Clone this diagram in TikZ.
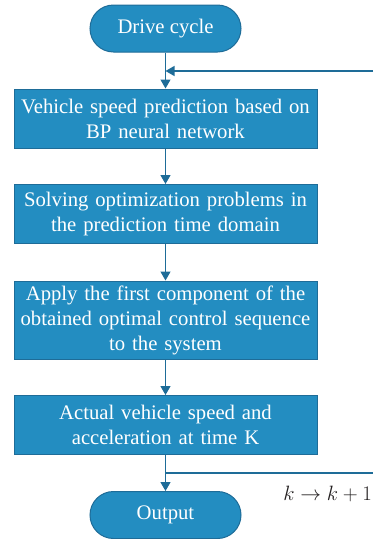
\documentclass[tikz,border=0pt]{standalone}
\usepackage{fontspec}
\setmainfont{Liberation Serif}
\usetikzlibrary{arrows.meta}

\definecolor{flowfill}{RGB}{35,141,193}
\definecolor{flowline}{RGB}{30,108,152}
\definecolor{labeltext}{RGB}{35,31,32}

\begin{document}
\begin{tikzpicture}
[
	x=1pt,
	y=1pt,
	procbox/.style={rectangle,draw=flowline,fill=flowfill,line width=1pt,text=white,align=center,
		text width=301pt,minimum width=303pt,minimum height=59pt,inner sep=1pt,
		font=\fontsize{20.7}{25}\selectfont},
	termnode/.style={rectangle,rounded corners=23.5pt,draw=flowline,fill=flowfill,line width=1pt,
		text=white,minimum width=151pt,minimum height=47pt,inner sep=0pt,
		font=\fontsize{20.7}{25}\selectfont},
	flowarrow/.style={draw=flowline,line width=1.3pt,-{Triangle[width=10pt,length=9pt]}}
]

	% frame
	\useasboundingbox (0,0) rectangle (373,-539);

	% terminals
	\node[termnode] (drive) at (165.5,-28.5) {Drive cycle};
	\node[termnode] (output) at (165.5,-515) {Output};

	% process steps
	\node[procbox] (predict) at (165.5,-118.5) {Vehicle speed prediction based on\\BP neural network};
	\node[procbox] (solve) at (165.5,-214) {Solving optimization problems in\\the prediction time domain};
	\node[procbox,minimum height=78pt] (apply) at (165.5,-320) {Apply the first component of the\\obtained optimal control sequence\\to the system};
	\node[procbox] (actual) at (165.5,-425) {Actual vehicle speed and\\acceleration at time K};

	% main flow
	\draw[flowarrow] (drive) -- (predict);
	\draw[flowarrow] (predict) -- (solve);
	\draw[flowarrow] (solve) -- (apply);
	\draw[flowarrow] (apply) -- (actual);
	\draw[flowarrow] (actual) -- (output);

	% loop back
	\coordinate (loopin) at (373,-71);
	\coordinate (loopout) at (373,-473);
	\draw[flowarrow] (loopin) -- (loopin -| drive.south);
	\draw[flowline,line width=1.3pt] (actual.south |- loopout) -- (loopout);
	\node[text=labeltext,anchor=east,inner sep=0pt,font=\fontsize{20}{22}\selectfont] (steplabel) at (372,-494) {$k \to k+1$};

\end{tikzpicture}
\end{document}
